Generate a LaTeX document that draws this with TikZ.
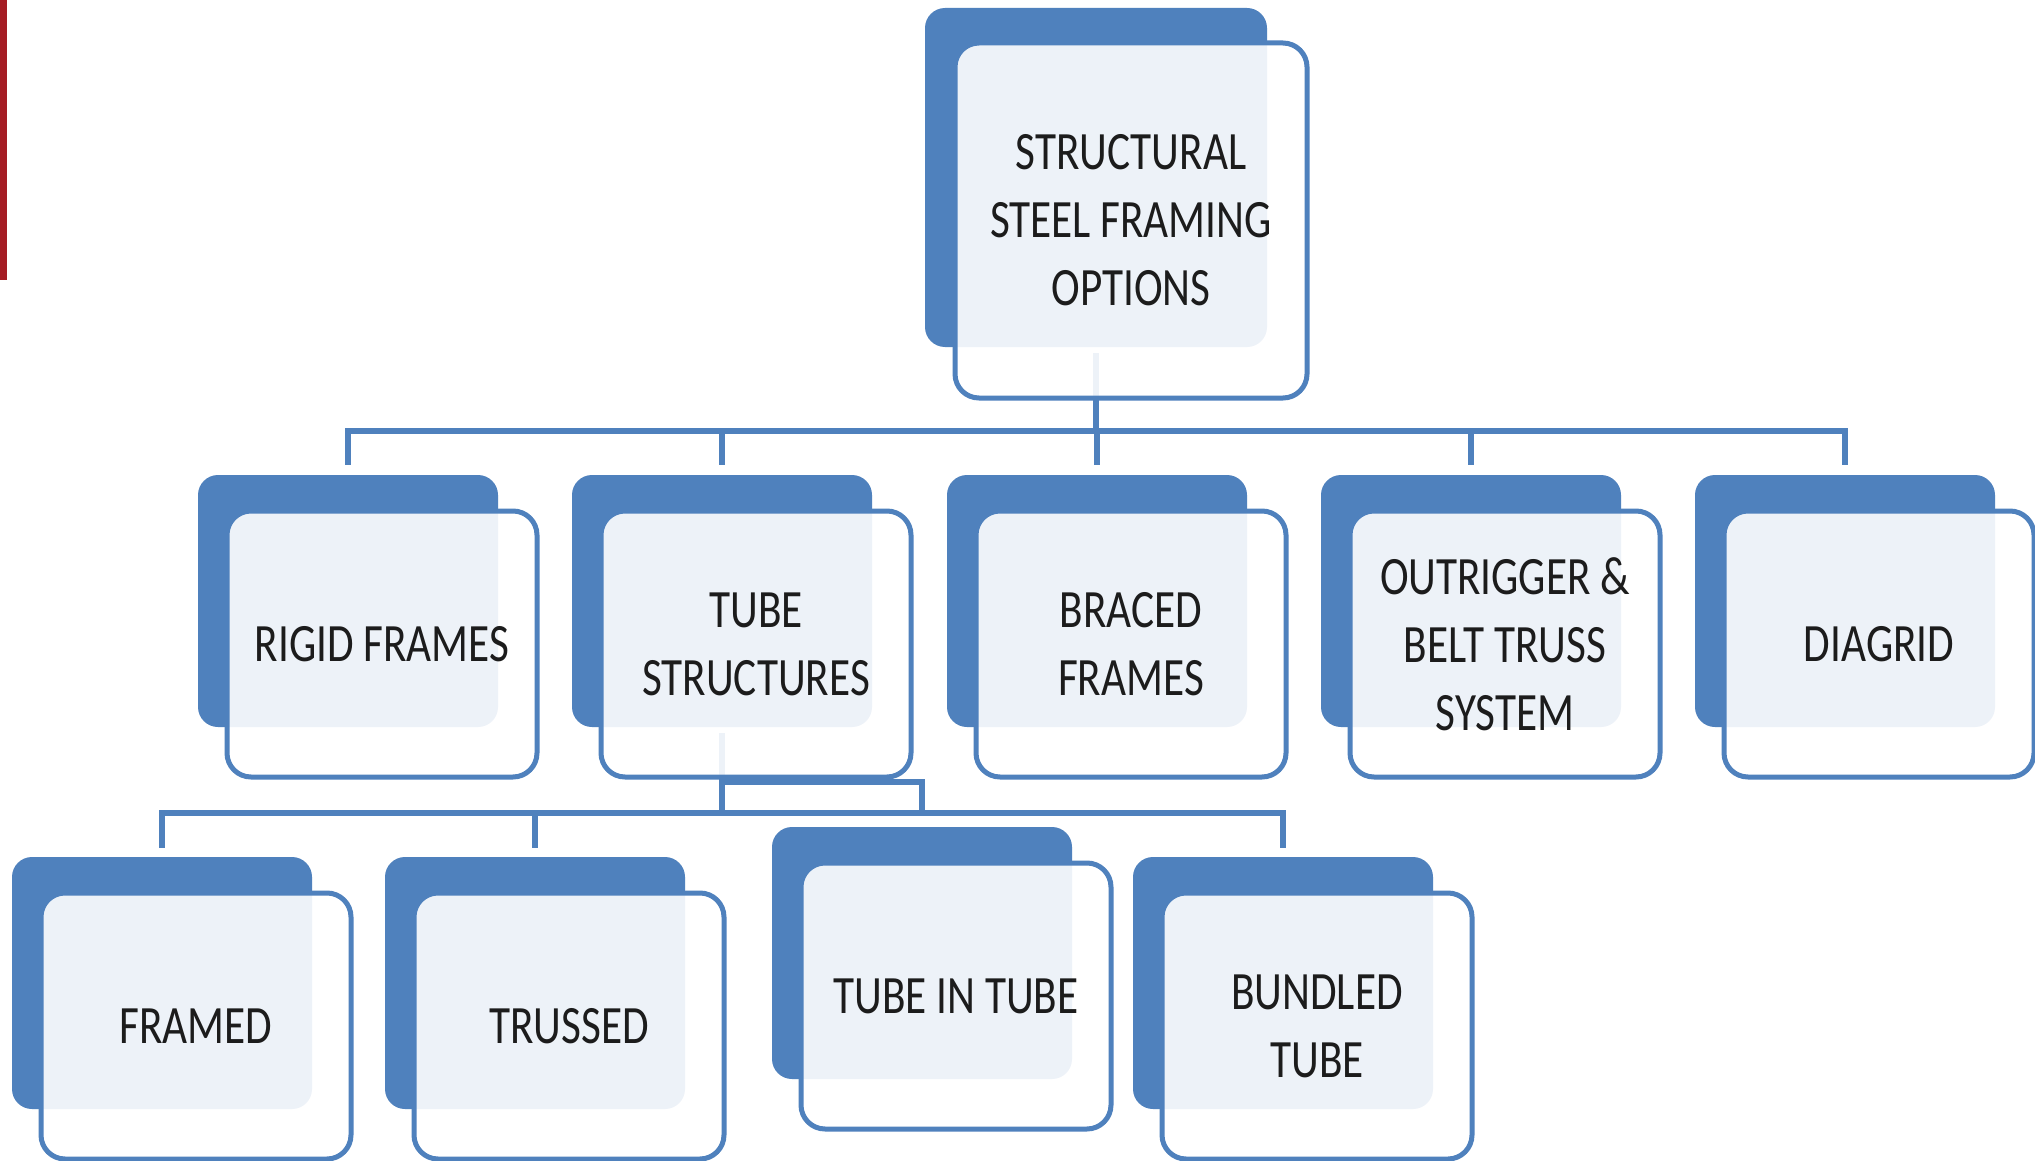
\documentclass[tikz,border=0pt]{standalone}
\usepackage{fontspec}
\setmainfont{Carlito}
\usepackage{graphicx}
\definecolor{bblue}{RGB}{79,129,189}
\definecolor{redbar}{RGB}{165,28,36}
\definecolor{txt}{RGB}{28,28,28}
\newcommand\sq[1]{\scalebox{0.8}[1]{#1}}
\tikzset{
  backbox/.style={fill=bblue, rounded corners=10pt, minimum width=150pt, minimum height=126pt, inner sep=0pt},
  frontbox/.style={draw=bblue, line width=2.5pt, rounded corners=12pt, fill=white, fill opacity=0.9, text opacity=1,
    minimum width=155pt, minimum height=133pt, inner sep=0pt, align=center, text=txt,
    font=\fontsize{27}{34}\selectfont},
  conn/.style={draw=bblue, line width=2.75pt},
}
\newcommand\backat[3]{\node[backbox] (#1B) at (#2+150,#3+126) {};}
\newcommand\frontat[4]{\node[frontbox] (#1) at (#2+184,#3+169) {#4};}
\begin{document}
\begin{tikzpicture}[x=0.5pt,y=-0.5pt]
\useasboundingbox (0,0) rectangle (2035,1161);
\fill[white] (0,0) rectangle (2035,1161);
\fill[redbar] (0,0) rectangle (7,280);

% back boxes
\node[backbox, minimum width=171pt, minimum height=169.5pt] (topB) at (1096,177.5) {};
\backat{rigid}{198}{475}
\backat{tube}{572}{475}
\backat{braced}{947}{475}
\backat{outrig}{1321}{475}
\backat{diag}{1695}{475}
\backat{framed}{12}{857}
\backat{trussed}{385}{857}
\backat{tint}{772}{827}
\backat{bundled}{1133}{857}

% connectors
\coordinate (bar1) at (1096,431);
\coordinate (bar2) at (722,813);
\coordinate (elb) at (722,782);
\draw[conn] ([yshift=-3pt]topB.south) -- (topB.south |- bar1);
\draw[conn] ([yshift=5pt]rigidB.north) -- (rigidB.north |- bar1) -- (diagB.north |- bar1) -- ([yshift=5pt]diagB.north);
\foreach \n in {tube,braced,outrig}
  \draw[conn] (\n B.north |- bar1) -- ([yshift=5pt]\n B.north);
\draw[conn] ([yshift=-3pt]tubeB.south) -- (tubeB.south |- bar2);
\draw[conn] ([yshift=4.5pt]framedB.north) -- (framedB.north |- bar2) -- (bundledB.north |- bar2) -- ([yshift=4.5pt]bundledB.north);
\draw[conn] (trussedB.north |- bar2) -- ([yshift=4.5pt]trussedB.north);
\draw[conn] (tubeB.south |- elb) -- (tintB.north |- elb) -- (tintB.north |- bar2);

% front boxes
\node[frontbox, minimum width=176pt, minimum height=177.5pt] (top) at (1131,220.5)
  {\sq{STRUCTURAL}\\\sq{STEEL FRAMING}\\\sq{OPTIONS}};
\frontat{rigid}{198}{475}{\sq{RIGID FRAMES}}
\frontat{tube}{572}{475}{\sq{TUBE}\\\sq{STRUCTURES}}
\frontat{braced}{947}{475}{\sq{BRACED}\\\sq{FRAMES}}
\frontat{outrig}{1321}{475}{\sq{OUTRIGGER \&}\\\sq{BELT TRUSS}\\\sq{SYSTEM}}
\frontat{diag}{1695}{475}{\sq{DIAGRID}}
\frontat{framed}{12}{857}{\sq{FRAMED}}
\frontat{trussed}{385}{857}{\sq{TRUSSED}}
\frontat{tint}{772}{827}{\sq{TUBE IN TUBE}}
\frontat{bundled}{1133}{857}{\sq{BUNDLED}\\\sq{TUBE}}
\end{tikzpicture}
\end{document}
